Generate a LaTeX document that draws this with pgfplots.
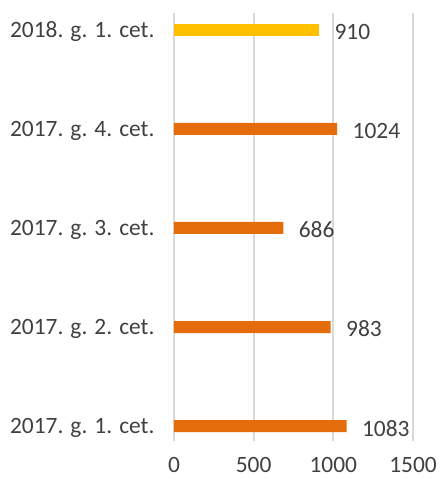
\documentclass[border=0pt]{standalone}
\usepackage{fontspec}
\setmainfont{Carlito}
\usepackage{pgfplots}
\pgfplotsset{compat=1.18}
\definecolor{barorange}{HTML}{E46C0A}
\definecolor{baryellow}{HTML}{FFC000}
\definecolor{txtgray}{HTML}{404040}
\definecolor{gridgray}{HTML}{D9D9D9}
\begin{document}
\begin{tikzpicture}
\begin{axis}[
    name=ax,
    scale only axis,
    width=239bp, height=428bp,
    xmin=0, xmax=1500,
    ymin=-0.15, ymax=4.17,
    xtick={0,500,1000,1500},
    ytick={0,1,2,3,4},
    yticklabels={2017. g. 1. cet., 2017. g. 2. cet., 2017. g. 3. cet., 2017. g. 4. cet., 2018. g. 1. cet.},
    xmajorgrids,
    grid style={gridgray, line width=1.8bp},
    axis line style={draw=none},
    major tick length=0pt,
    tick label style={font=\fontsize{23.5}{27}\selectfont, text=txtgray},
    /pgf/number format/assume math mode=true,
    /pgf/number format/1000 sep={},
    yticklabel style={xshift=-16bp, yshift=-2bp},
    xticklabel style={yshift=-13bp},
    xbar, bar width=12bp, bar shift=0pt,
    nodes near coords,
    every node near coord/.append style={font=\fontsize{23.5}{27}\selectfont, text=txtgray, xshift=12bp, yshift=-2bp},
]
\addplot[fill=barorange, draw=none] coordinates {(1083,0) (983,1) (686,2) (1024,3)};
\addplot[fill=baryellow, draw=none] coordinates {(910,4)};
\end{axis}
\path ([shift={(-174bp,-42bp)}]ax.south west) rectangle ([shift={(26bp,13bp)}]ax.north east);
\end{tikzpicture}
\end{document}
